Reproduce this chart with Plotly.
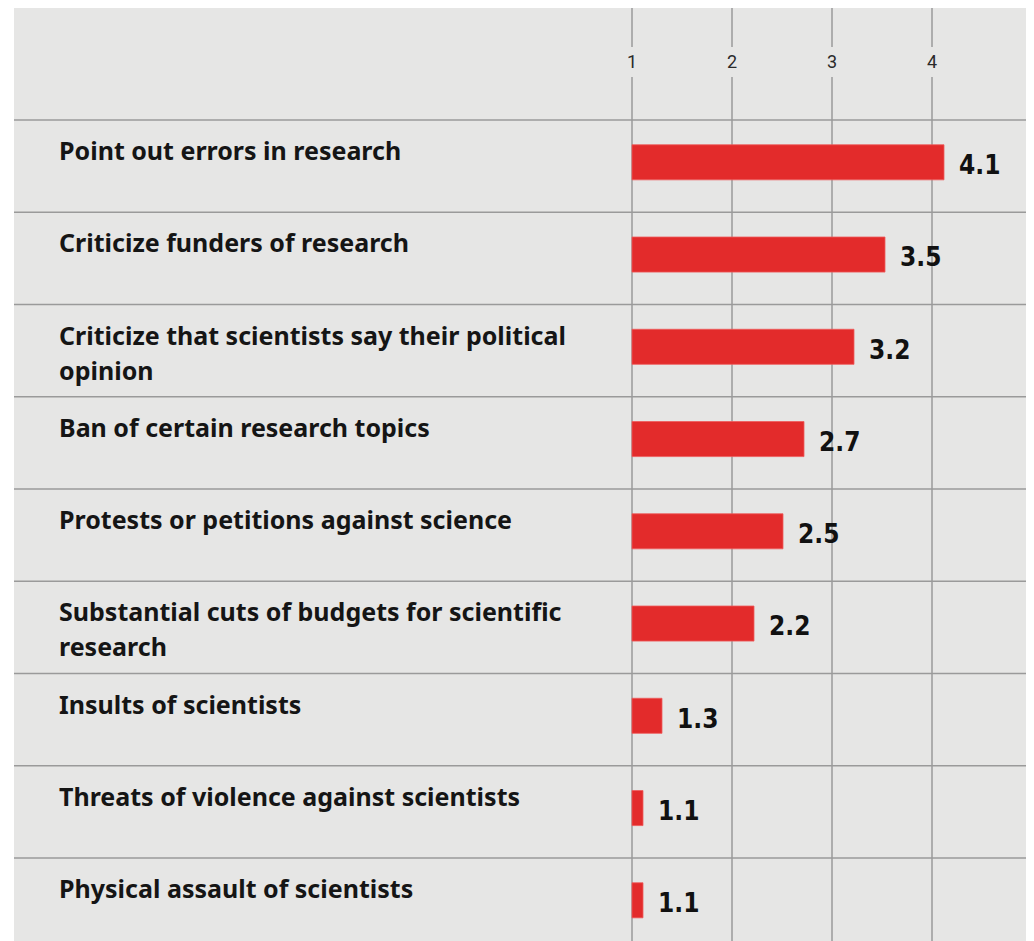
import plotly.graph_objects as go

categories = [
    "Point out errors in research",
    "Criticize funders of research",
    "Criticize that scientists say their political<br>opinion",
    "Ban of certain research topics",
    "Protests or petitions against science",
    "Substantial cuts of budgets for scientific<br>research",
    "Insults of scientists",
    "Threats of violence against scientists",
    "Physical assault of scientists",
]
values = [4.12, 3.53, 3.22, 2.72, 2.51, 2.22, 1.30, 1.11, 1.11]
value_labels = ["4.1", "3.5", "3.2", "2.7", "2.5", "2.2", "1.3", "1.1", "1.1"]
tick_values = [1, 2, 3, 4, 5]
tick_labels = ["1", "2", "3", "4", "5"]

# page geometry (body has an 8px margin)
PAGE_OFF = 8
PAGE_W, PAGE_H = 1034, 941
PANEL_L, PANEL_T = 14, 8
W = PAGE_W - PAGE_OFF
H = PAGE_H - PAGE_OFF
ML = PANEL_L - PAGE_OFF
MT = PANEL_T - PAGE_OFF
PX_PER_UNIT = 100.0
X1_PX = 632          # page px of value 1
ROW_PX = 92.25
ROW0_PX = 166        # page px of first row centre

x_lo = 1 - (X1_PX - PANEL_L) / PX_PER_UNIT
x_hi = 1 + (PAGE_W - X1_PX) / PX_PER_UNIT
y_top = (PANEL_T - ROW0_PX) / ROW_PX
y_bot = (PAGE_H - ROW0_PX) / ROW_PX


def py(px):
    return (px - ROW0_PX) / ROW_PX


BG = "#e6e6e5"
GRID = "#9a9a9a"
RED = "#e32b2b"

rows = list(range(len(categories)))

fig = go.Figure()
fig.add_trace(go.Bar(
    y=[r - 0.04 for r in rows],
    x=[v - 1 for v in values],
    base=1,
    orientation="h",
    width=0.38,
    marker=dict(color=RED, line=dict(color="#ef5a5a", width=0.8)),
    hoverinfo="skip",
))

shapes = []
for t in tick_values:
    shapes.append(dict(type="line", xref="x", yref="y", x0=t, x1=t,
                       y0=y_top, y1=py(47), line=dict(color=GRID, width=1.5), layer="below"))
    shapes.append(dict(type="line", xref="x", yref="y", x0=t, x1=t,
                       y0=py(77), y1=y_bot, line=dict(color=GRID, width=1.5), layer="below"))
for r in rows:
    shapes.append(dict(type="line", xref="paper", yref="y", x0=0, x1=1,
                       y0=r - 0.5, y1=r - 0.5, line=dict(color=GRID, width=1.5), layer="below"))

annotations = []
for t, lab in zip(tick_values, tick_labels):
    annotations.append(dict(x=t, y=py(61), xref="x", yref="y", text=lab, showarrow=False,
                            xanchor="center", yanchor="middle",
                            font=dict(family="Roboto, DejaVu Sans", size=18, color="#2a2a2a")))
label_x = 1 - (X1_PX - 57) / PX_PER_UNIT
for r, cat in enumerate(categories):
    lines = cat.split("<br>")
    for k, ln in enumerate(lines):
        annotations.append(dict(x=label_x, y=r + py(ROW0_PX - 16 + 35 * k),
                                xref="x", yref="y", text="<b>" + ln + "</b>", showarrow=False,
                                xanchor="left", yanchor="middle",
                                font=dict(family="Noto Sans, Lato", size=25, color="#151515")))
for r, (v, lab) in enumerate(zip(values, value_labels)):
    annotations.append(dict(x=v + 13 / PX_PER_UNIT, y=r - 0.01, xref="x", yref="y",
                            text="<b>" + lab + "</b>", showarrow=False,
                            xanchor="left", yanchor="middle",
                            font=dict(family="DejaVu Sans Condensed, Liberation Sans Narrow", size=26,
                                      color="#111111")))

fig.update_layout(
    width=W, height=H,
    margin=dict(l=ML, r=0, t=MT, b=0, pad=0),
    paper_bgcolor="white",
    plot_bgcolor=BG,
    showlegend=False,
    xaxis=dict(range=[x_lo, x_hi], showgrid=False, zeroline=False, showticklabels=False,
               showline=False, fixedrange=True),
    yaxis=dict(range=[y_bot, y_top], showgrid=False, zeroline=False, showticklabels=False,
               showline=False, fixedrange=True),
    shapes=shapes,
    annotations=annotations,
)

fig.write_html("out.html", config={"displayModeBar": False})
